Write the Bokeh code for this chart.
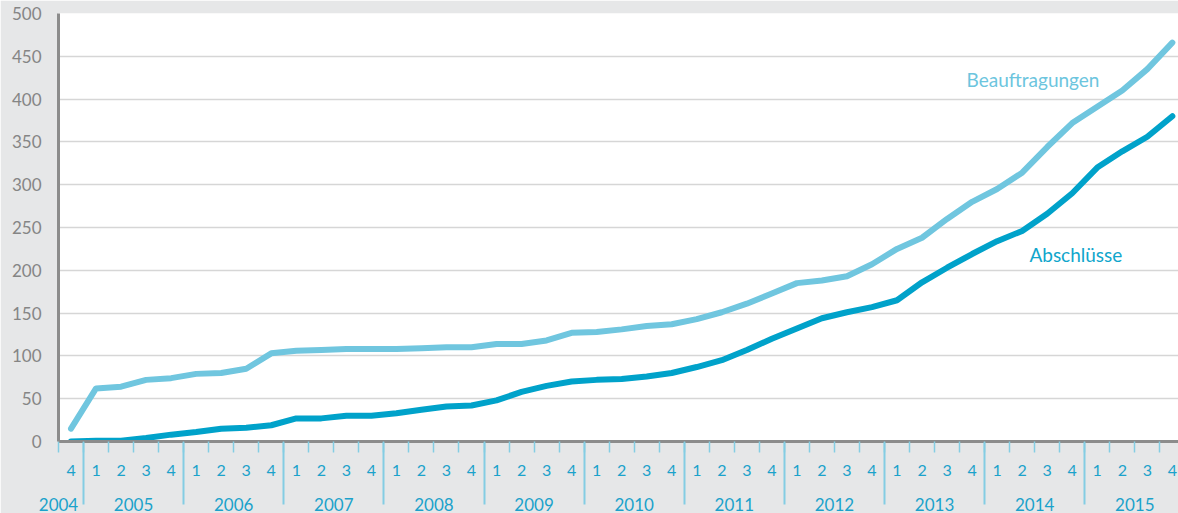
from bokeh.plotting import figure
from bokeh.models import FixedTicker, LinearAxis, Range1d, Label, Grid, ColumnDataSource
from bokeh.embed import file_html
from bokeh.resources import INLINE

# ---------------- data ----------------
period_years = [2004] + [y for y in range(2005, 2016) for _ in range(4)]
quarters = [4] + [1, 2, 3, 4] * 11

beauftragungen = [15, 62, 64, 72, 74, 79, 80, 85, 103, 106, 107, 108, 108, 108, 109,
                  110, 110, 114, 114, 118, 127, 128, 131, 135, 137, 143, 151, 161, 173,
                  185, 188, 193, 207, 225, 238, 260, 280, 295, 314, 344, 372, 391, 410,
                  435, 466]
abschluesse = [0, 1, 1, 4, 8, 11, 15, 16, 19, 27, 27, 30, 30, 33, 37, 41, 42, 48, 58,
               65, 70, 72, 73, 76, 80, 87, 95, 107, 120, 132, 144, 151, 157, 165, 186,
               203, 219, 234, 246, 266, 290, 320, 339, 356, 380]
y_ticks = list(range(0, 501, 50))

# ---------------- derived positions ----------------
idx = list(range(len(quarters)))
quarter_bounds = [i - 0.5 for i in range(len(quarters) + 1)]
year_bounds = [i - 0.5 for i in range(1, len(quarters)) if period_years[i] != period_years[i - 1]]
year_list = sorted(set(period_years))
year_pos = []
for y in year_list:
    ii = [i for i, v in enumerate(period_years) if v == y]
    if len(ii) == 4:
        year_pos.append((ii[0] + ii[-1]) / 2)
    else:
        year_pos.append(ii[-1] - 0.5)

GRAY_BG = "#e6e7e8"
AXIS_GRAY = "#8c8c8c"
GRID = "#d6d6d6"
TICK_CYAN = "#84cde3"
LABEL_CYAN = "#1ba2cb"
LIGHT = "#70c6df"
DARK = "#00a2ca"
FONT = "Lato"

p = figure(width=1178, height=513, output_backend="svg", toolbar_location=None,
           x_range=Range1d(-0.5, 44.246), y_range=Range1d(0, 500),
           x_axis_type=None, y_axis_type=None,
           min_border_left=58, min_border_right=0, min_border_top=13, min_border_bottom=68)
p.background_fill_color = "white"
p.border_fill_color = GRAY_BG
p.outline_line_color = None

yticker = FixedTicker(ticks=y_ticks)
p.add_layout(Grid(dimension=1, ticker=yticker, grid_line_color=GRID, grid_line_width=1.6))

yaxis = LinearAxis(ticker=yticker, major_tick_out=0, major_tick_in=0,
                   minor_tick_out=0, minor_tick_in=0,
                   axis_line_color=AXIS_GRAY, axis_line_width=3,
                   major_label_text_color="#858585", major_label_text_font=FONT,
                   major_label_text_font_size="17px", major_label_standoff=17,
                   major_label_text_baseline="top")
p.add_layout(yaxis, "left")

qaxis = LinearAxis(ticker=FixedTicker(ticks=idx, minor_ticks=quarter_bounds),
                   major_tick_out=0, major_tick_in=0,
                   minor_tick_out=11, minor_tick_in=0,
                   minor_tick_line_color=TICK_CYAN, minor_tick_line_width=1.5,
                   axis_line_color=AXIS_GRAY, axis_line_width=3,
                   major_label_text_color=LABEL_CYAN, major_label_text_font=FONT,
                   major_label_text_font_size="16px", major_label_standoff=12,
                   major_label_overrides={i: str(q) for i, q in enumerate(quarters)})
p.add_layout(qaxis, "below")

yaxis2 = LinearAxis(ticker=FixedTicker(ticks=year_pos, minor_ticks=year_bounds),
                    major_tick_out=0, major_tick_in=0,
                    minor_tick_out=26, minor_tick_in=36,
                    minor_tick_line_color=TICK_CYAN, minor_tick_line_width=2,
                    axis_line_color=None,
                    major_label_text_color=LABEL_CYAN, major_label_text_font=FONT,
                    major_label_text_font_size="17px", major_label_standoff=-7,
                    major_label_overrides={pos: str(y) for pos, y in zip(year_pos, year_list)})
p.add_layout(yaxis2, "below")

src = ColumnDataSource(dict(x=idx, b=beauftragungen, a=abschluesse))
p.line("x", "b", source=src, line_color=LIGHT, line_width=6, line_join="round", line_cap="round")
p.line("x", "a", source=src, line_color=DARK, line_width=6, line_join="round", line_cap="round")

p.add_layout(Label(x=35.78, y=423, text="Beauftragungen", text_font=FONT,
                   text_font_size="19px", text_color="#6cc5de", text_baseline="alphabetic"))
p.add_layout(Label(x=38.29, y=218, text="Abschlüsse", text_font=FONT,
                   text_font_size="19px", text_color="#10a6cc", text_baseline="alphabetic"))

open("out.html", "w").write(file_html(p, INLINE))
